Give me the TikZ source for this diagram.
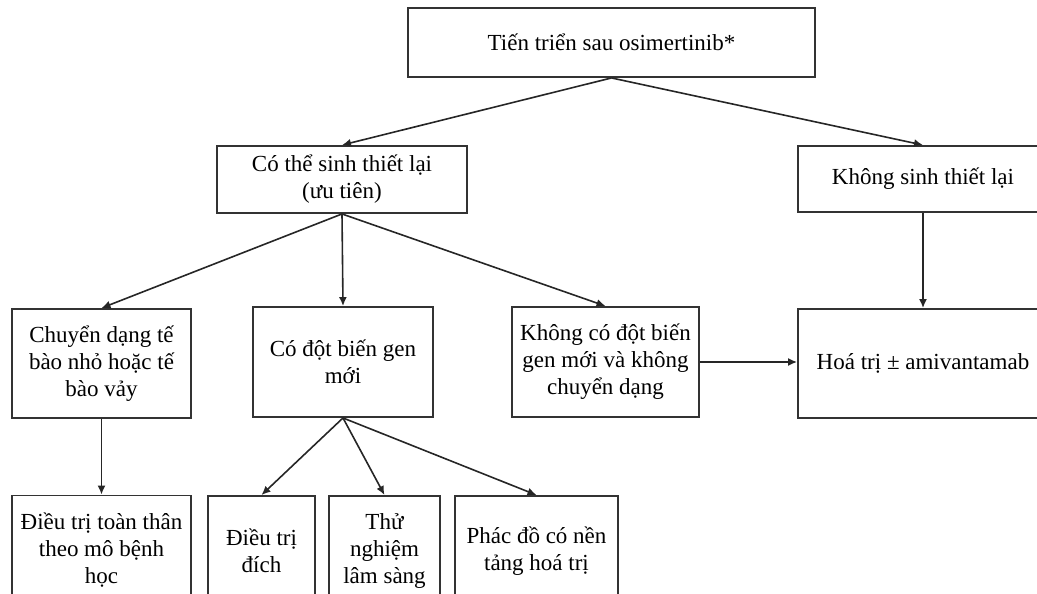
\documentclass[tikz,border=0pt]{standalone}
\usepackage{fontspec}
\setmainfont{Liberation Serif}
\usetikzlibrary{arrows.meta}
\begin{document}
\begin{tikzpicture}[x=1pt,y=-1pt,
  box/.style={draw=black!80, line width=1.9pt, rectangle, inner sep=0pt,
    align=center, font=\fontsize{23}{27}\selectfont},
  link/.style={draw=black!85, line width=1.6pt,
    -{Latex[length=9pt,width=8pt]}}]
\useasboundingbox (0,0) rectangle (1037,594);
\clip (0,0) rectangle (1037,594);

% top level
\node[box, minimum width=407pt, minimum height=69pt] (top) at (611.5,42.5)
  {Tiến triển sau osimertinib*};

% second level
\node[box, minimum width=250pt, minimum height=67pt] (biopsy) at (342,179.5)
  {Có thể sinh thiết lại\\(ưu tiên)};
\node[box, minimum width=250pt, minimum height=66pt] (nobiopsy) at (923,179)
  {Không sinh thiết lại};

% third level
\node[box, minimum width=179pt, minimum height=109pt] (transform) at (101.5,363.5)
  {Chuyển dạng tế\\bào nhỏ hoặc tế\\bào vảy};
\node[box, minimum width=180pt, minimum height=110pt] (newmut) at (343,362)
  {Có đột biến gen\\mới};
\node[box, minimum width=187pt, minimum height=110pt] (nomut) at (605.5,362)
  {Không có đột biến\\gen mới và không\\chuyển dạng};
\node[box, minimum width=250pt, minimum height=109pt] (chemo) at (923,363.5)
  {Hoá trị ± amivantamab};

% fourth level
\node[box, minimum width=179pt, minimum height=110pt] (systemic) at (101.5,550.5)
  {Điều trị toàn thân\\theo mô bệnh\\học};
\node[box, minimum width=107pt, minimum height=110pt] (targeted) at (261.5,551)
  {Điều trị\\đích};
\node[box, minimum width=111pt, minimum height=110pt] (trial) at (384.5,551)
  {Thử\\nghiệm\\lâm sàng};
\node[box, minimum width=163pt, minimum height=110pt] (platinum) at (536.5,551)
  {Phác đồ có nền\\tảng hoá trị};

% connectors
\draw[link] (top.south) -- (biopsy.north);
\draw[link] (top.south) -- (nobiopsy.north);
\draw[link] (biopsy.south) -- (transform.north);
\draw[link] (biopsy.south) -- (newmut.north);
\draw[link] (biopsy.south) -- (nomut.north);
\draw[link] (nobiopsy.south) -- (chemo.north);
\draw[link] (nomut.east) -- (nomut.east -| chemo.west);
\draw[link] (transform.south) -- (systemic.north);
\draw[link] (newmut.south) -- (targeted.north);
\draw[link] (newmut.south) -- (trial.north);
\draw[link] (newmut.south) -- (platinum.north);
\end{tikzpicture}
\end{document}
